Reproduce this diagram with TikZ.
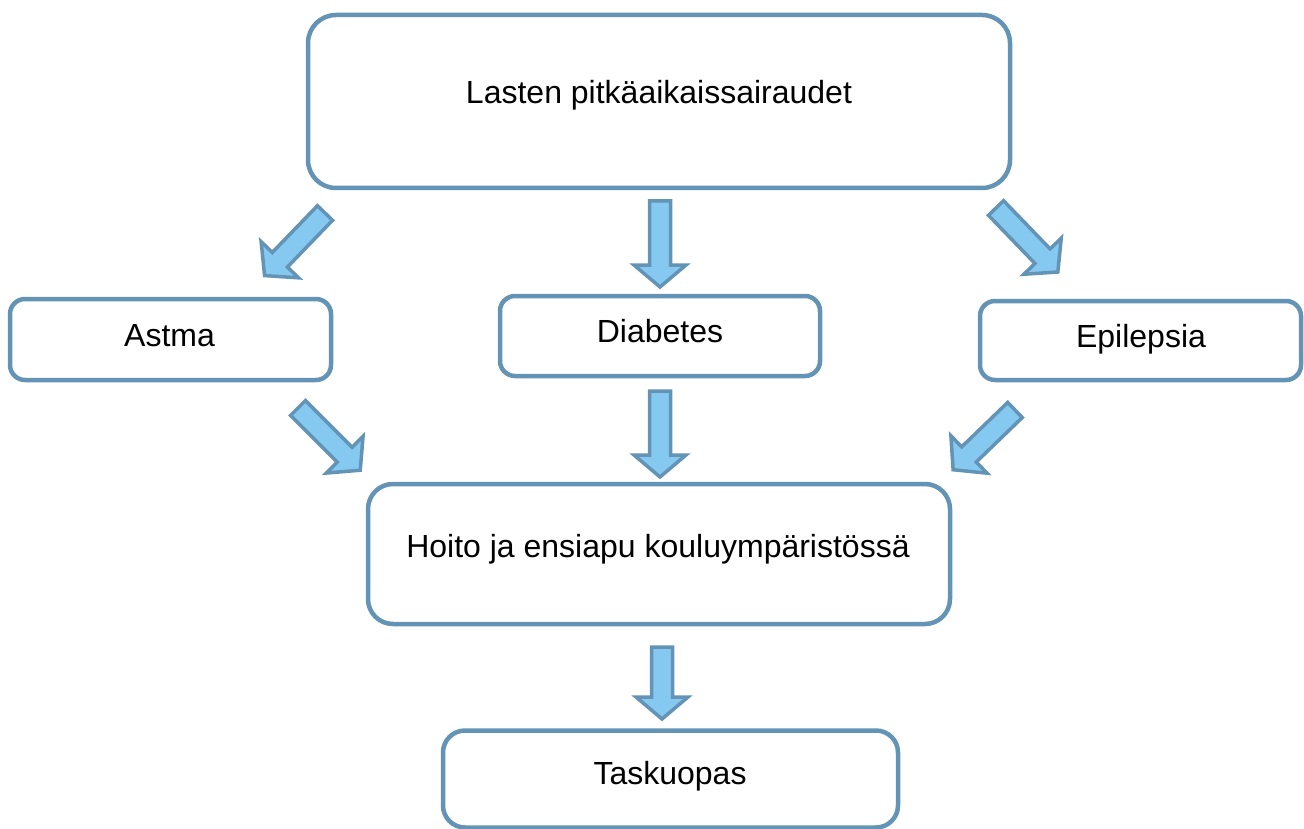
\documentclass[tikz,border=0pt]{standalone}
\usepackage{fontspec}
\setmainfont{Liberation Sans}
\definecolor{boxline}{HTML}{6394B5}
\definecolor{arrowfill}{HTML}{85C8F0}
\definecolor{arrowline}{HTML}{6394B5}
\tikzset{
  roundbox/.style={draw=boxline, line width=4.5pt, fill=white, inner sep=0pt},
  label text/.style={anchor=base, inner sep=0pt, font=\fontsize{32}{38}\selectfont},
  blockarrow/.style={draw=arrowline, fill=arrowfill, line width=3.5pt, line join=miter},
}
\newcommand\fatarrow[3]{%
  \begin{scope}[shift={(#1)}, rotate=#2]
    \draw[blockarrow] (0,-10.5) -- (#3-22,-10.5) -- (#3-22,-26) -- (#3,0) -- (#3-22,26) -- (#3-22,10.5) -- (0,10.5) -- cycle;
  \end{scope}}
\begin{document}
\begin{tikzpicture}[x=1pt,y=-1pt]
\useasboundingbox (0,0) rectangle (1304,829);
% boxes
\node[roundbox, rounded corners=28pt, minimum width=702pt, minimum height=173pt] (top) at (659,101.5) {};
\node[roundbox, rounded corners=15pt, minimum width=321pt, minimum height=81pt] (astma) at (170.5,339.5) {};
\node[roundbox, rounded corners=15pt, minimum width=320pt, minimum height=80pt] (diab) at (660,336) {};
\node[roundbox, rounded corners=15pt, minimum width=321pt, minimum height=79pt] (epi) at (1140.5,340.5) {};
\node[roundbox, rounded corners=25pt, minimum width=582pt, minimum height=140pt] (hoito) at (659,554) {};
\node[roundbox, rounded corners=22pt, minimum width=455pt, minimum height=97pt] (tasku) at (670.5,779) {};
% texts
\node[label text] (ttop) at (659,104) {Lasten pitkäaikaissairaudet};
\node[label text] (tastma) at (169.5,346) {Astma};
\node[label text] (tdiab) at (660,342) {Diabetes};
\node[label text] (tepi) at (1141,347) {Epilepsia};
\node[label text] (thoito) at (658,557) {Hoito ja ensiapu kouluympäristössä};
\node[label text] (ttasku) at (670,784) {Taskuopas};
% arrow start points
\coordinate (a1) at (325,213);
\coordinate (a2) at (660,201);
\coordinate (a3) at (996,208);
\coordinate (a4) at (298,408);
\coordinate (a5) at (660,391);
\coordinate (a6) at (1015,410);
\coordinate (a7) at (662,647);
\fatarrow{a1}{-134}{87}
\fatarrow{a2}{-90}{86}
\fatarrow{a3}{-46}{89}
\fatarrow{a4}{-45}{88}
\fatarrow{a5}{-90}{86}
\fatarrow{a6}{-136}{86}
\fatarrow{a7}{-90}{72}
\end{tikzpicture}
\end{document}
